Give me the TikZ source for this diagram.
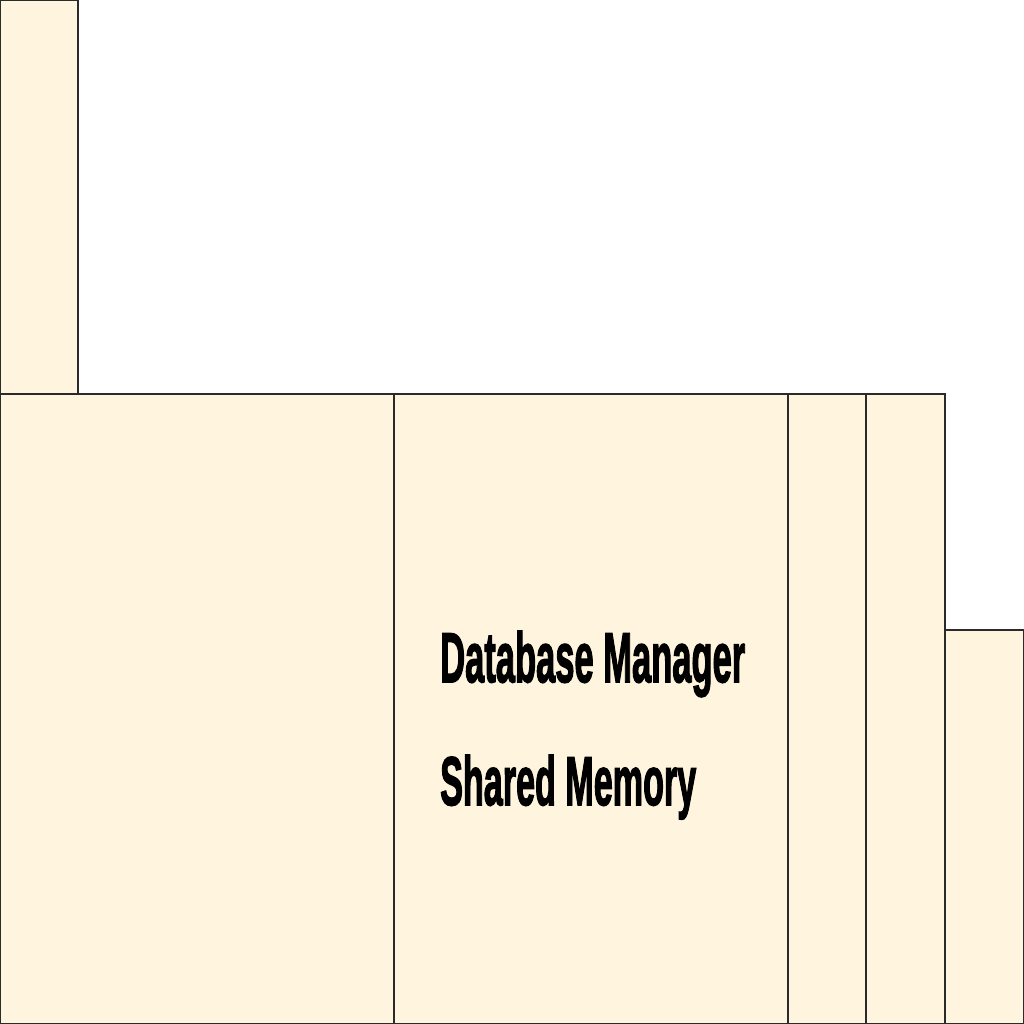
\documentclass[tikz,border=0pt]{standalone}
\usepackage{fontspec}
\setmainfont{Liberation Sans}
\newfontfamily\lblfont[FakeBold=2.5]{Liberation Sans Bold}
\usepackage{graphicx}
\definecolor{boxfill}{HTML}{FFF5DF}
\definecolor{boxline}{HTML}{2A2A2A}
\begin{document}
\begin{tikzpicture}[x=1pt,y=-1pt,
  part/.style={draw=boxline,fill=boxfill,line width=1.2pt},
  lbl/.style={anchor=base west,inner sep=0pt,font=\lblfont}]
\useasboundingbox (0,0) rectangle (1024,1024);
\fill[white] (0,0) rectangle (1024,1024);
\draw[part] (0,0) rectangle (78,394);
\draw[part] (0,394) rectangle (394,1024);
\draw[part] (394,394) rectangle (788,1024);
\draw[part] (788,394) rectangle (866,1024);
\draw[part] (866,394) rectangle (945,1024);
\draw[part] (945,630) rectangle (1024,1024);
\node[lbl] (dbm) at (440,682) {\resizebox{305pt}{51pt}{Database Manager}};
\node[lbl] (shm) at (440,805) {\resizebox{256pt}{50pt}{Shared Memory}};
\end{tikzpicture}
\end{document}
